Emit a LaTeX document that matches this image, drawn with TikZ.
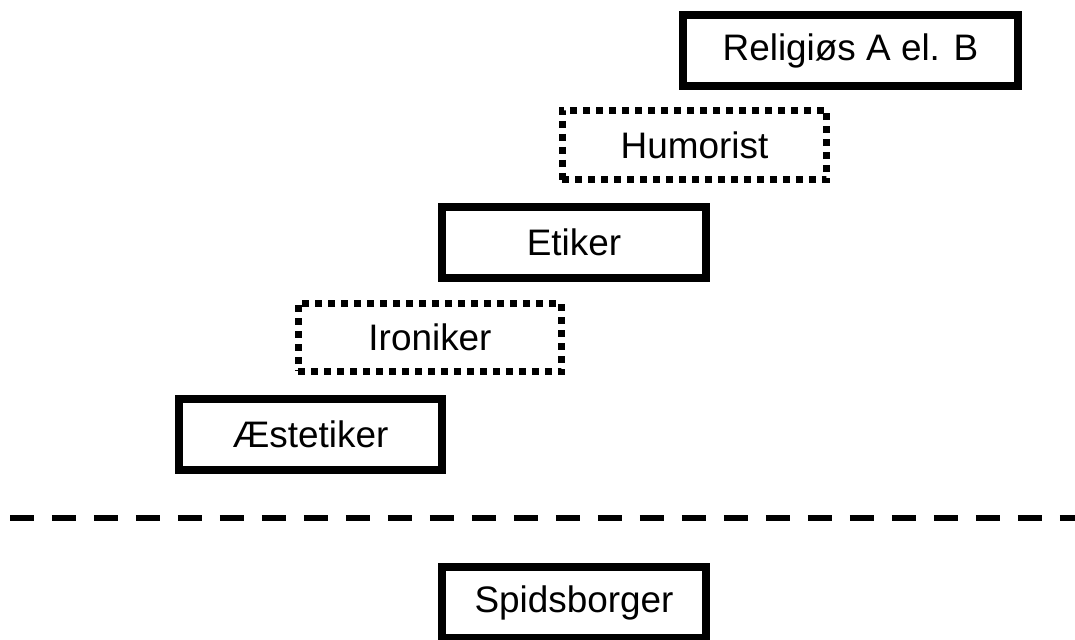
\documentclass[tikz,border=0pt]{standalone}
\usepackage{fontspec}
\setmainfont{Liberation Sans}
\begin{document}
\begin{tikzpicture}[
	x=0.02cm,
	y=-0.02cm,
	stage/.style={draw,line width=0.16cm,minimum width=5.28cm,minimum height=1.42cm,inner sep=0pt,font=\fontsize{21}{25}\selectfont},
	transition/.style={draw,line width=0.14cm,dash pattern=on 0.14cm off 0.12cm,minimum width=5.28cm,minimum height=1.4cm,inner sep=0pt,font=\fontsize{21}{25}\selectfont},
	border/.style={line width=0.12cm,dash pattern=on 0.48cm off 0.36cm}
	]
	\useasboundingbox (0,0) rectangle (1075,639);
	\node[stage,minimum width=6.7cm] (religious) at (850.5,50.5) {Religiøs A el. B};
	\node[transition,minimum width=5.3cm] (humorist) at (694.5,145) {Humorist};
	\node[stage] (ethicist) at (574,242.5) {Etiker};
	\node[transition,minimum height=1.36cm] (ironist) at (430,337.5) {Ironiker};
	\node[stage] (aesthete) at (310.5,434.5) {Æstetiker};
	\coordinate (lineleft) at (10,518);
	\coordinate (lineright) at (1075,518);
	\draw[border] (lineleft) -- (lineright);
	\node[stage] (philistine) at (574,602.5) {Spidsborger};
\end{tikzpicture}
\end{document}
